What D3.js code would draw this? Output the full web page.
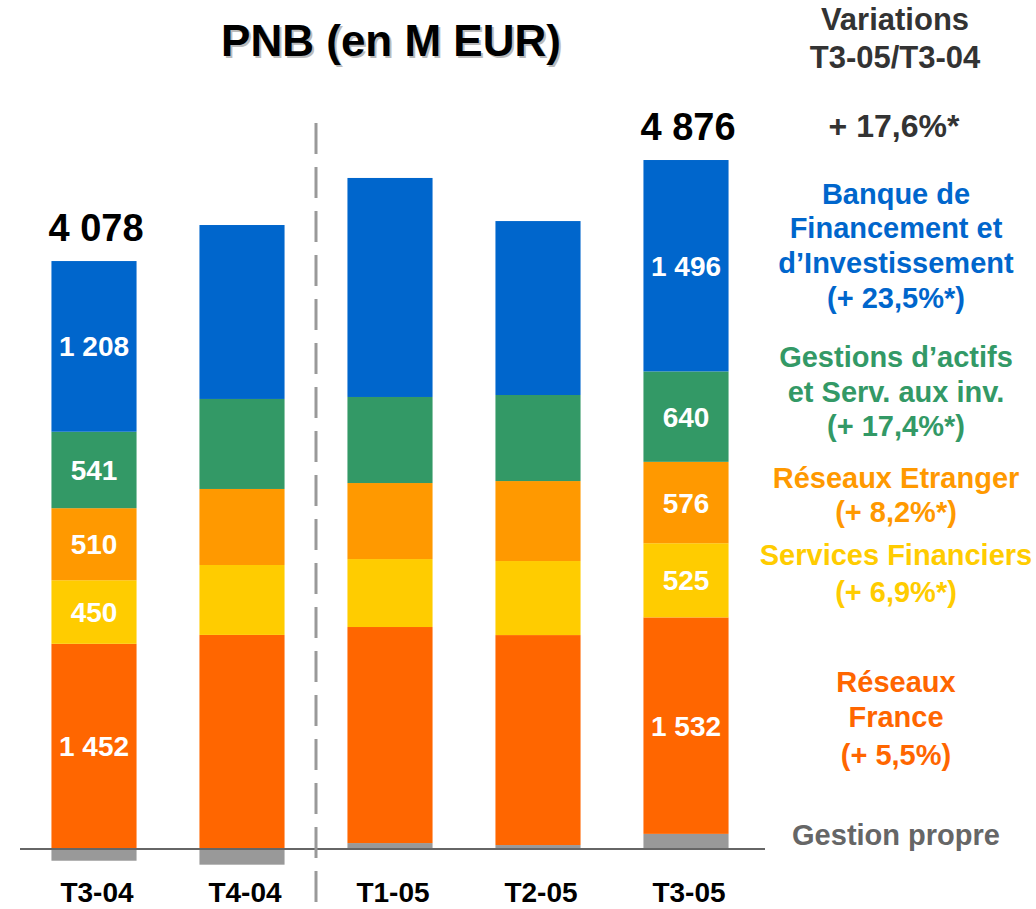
<!DOCTYPE html>
<html>
<head>
<meta charset="utf-8">
<script src="https://cdn.jsdelivr.net/npm/d3@7"></script>
<style>
  body { margin: 0; background: #fff; }
  svg { display: block; font-family: "Liberation Sans", Arial, sans-serif; font-weight: bold; }
</style>
</head>
<body>
<svg id="chart" width="1036" height="909"></svg>
<script>
// quarters
const categories = ["T3-04", "T4-04", "T1-05", "T2-05", "T3-05"];

// PNB per business line, M EUR (bottom to top)
const gestionPropre       = [-83, -111, 42, 28, 107];
const reseauxFrance       = [1452, 1515, 1529, 1486, 1532];
const servicesFinanciers  = [450, 495, 481, 524, 525];
const reseauxEtranger     = [510, 538, 538, 566, 576];
const gestionsActifs      = [541, 637, 609, 609, 640];
const banqueFinancement   = [1208, 1231, 1550, 1231, 1496];

// quarters where the values are printed
const labelled = ["T3-04", "T3-05"];

const keys = ["gp", "rf", "sf", "re", "ga", "bfi"];
const colors = {
  gp: "#999999", rf: "#FF6600", sf: "#FFCC00",
  re: "#FF9900", ga: "#339966", bfi: "#0066CC"
};

// right hand comments
const variationHeader = ["Variations", "T3-05/T3-04"];
const variationTotal = "+ 17,6%*";
const sideNotes = [
  { lines: ["Banque de", "Financement et", "d\u2019Investissement", "(+ 23,5%*)"], color: "#0066CC", y: [204, 238, 273, 308] },
  { lines: ["Gestions d\u2019actifs", "et Serv. aux inv.", "(+ 17,4%*)"], color: "#339966", y: [367, 402, 436] },
  { lines: ["R\u00e9seaux Etranger", "(+ 8,2%*)"], color: "#FF9900", y: [488, 522] },
  { lines: ["Services Financiers", "(+ 6,9%*)"], color: "#FFCC00", y: [565, 602] },
  { lines: ["R\u00e9seaux", "France", "(+ 5,5%)"], color: "#FF6600", y: [692, 727, 765] },
  { lines: ["Gestion propre"], color: "#666666", y: [845] }
];

const rows = categories.map((c, i) => ({
  cat: c,
  gp: gestionPropre[i], rf: reseauxFrance[i], sf: servicesFinanciers[i],
  re: reseauxEtranger[i], ga: gestionsActifs[i], bfi: banqueFinancement[i]
}));

const fr = d3.formatLocale({ decimal: ",", thousands: " ", grouping: [3], currency: ["", ""] });
const fmt = fr.format(",d");

const svg = d3.select("#chart");

const x = d3.scaleBand()
  .domain(categories)
  .range([20, 760])
  .paddingInner(0.425)
  .paddingOuter(0.2125);

const y = d3.scaleLinear()
  .domain([0, 5000])
  .range([849, 142.5]);

const series = d3.stack()
  .keys(keys)
  .offset(d3.stackOffsetDiverging)(rows);

// title with its shadow
const title = "PNB (en M EUR)";
svg.append("text")
  .attr("x", 393).attr("y", 58)
  .attr("text-anchor", "middle")
  .attr("font-size", 44)
  .attr("fill", "#bbbbbb")
  .text(title);
svg.append("text")
  .attr("x", 391).attr("y", 56)
  .attr("text-anchor", "middle")
  .attr("font-size", 44)
  .attr("fill", "#000")
  .text(title);

// bars
svg.append("g")
  .selectAll("g")
  .data(series)
  .join("g")
    .attr("fill", d => colors[d.key])
  .selectAll("rect")
  .data(d => d)
  .join("rect")
    .attr("x", d => x(d.data.cat))
    .attr("width", x.bandwidth())
    .attr("y", d => y(Math.max(d[0], d[1])))
    .attr("height", d => Math.abs(y(d[0]) - y(d[1])));

// values inside the bars
series.filter(s => s.key != "gp").forEach(s => {
  svg.append("g")
    .selectAll("text")
    .data(s.filter(d => labelled.includes(d.data.cat)))
    .join("text")
      .attr("x", d => x(d.data.cat) + x.bandwidth() / 2)
      .attr("y", d => (y(d[0]) + y(d[1])) / 2 + 10)
      .attr("text-anchor", "middle")
      .attr("font-size", 28)
      .attr("fill", "#fff")
      .text(d => fmt(d.data[s.key]));
});

// totals
svg.append("g")
  .selectAll("text")
  .data(rows.filter(r => labelled.includes(r.cat)))
  .join("text")
    .attr("x", d => x(d.cat) + x.bandwidth() / 2 + 2)
    .attr("y", d => y(d3.sum(keys.filter(k => k != "gp"), k => d[k]) + Math.max(0, d.gp)) - 20)
    .attr("text-anchor", "middle")
    .attr("font-size", 38)
    .attr("fill", "#000")
    .text(d => fmt(d3.sum(keys, k => d[k])));

// zero line
svg.append("line")
  .attr("x1", 20).attr("x2", 765)
  .attr("y1", y(0)).attr("y2", y(0))
  .attr("stroke", "#666")
  .attr("stroke-width", 2);

// separation 2004 / 2005
const sepX = (x("T4-04") + x.bandwidth() + x("T1-05")) / 2;
svg.append("line")
  .attr("x1", sepX).attr("x2", sepX)
  .attr("y1", 123).attr("y2", 906)
  .attr("stroke", "#999")
  .attr("stroke-width", 3)
  .attr("stroke-dasharray", "31,13");

// quarter labels
svg.append("g")
  .selectAll("text")
  .data(categories)
  .join("text")
    .attr("x", d => x(d) + x.bandwidth() / 2 + 3)
    .attr("y", 902)
    .attr("text-anchor", "middle")
    .attr("font-size", 28)
    .attr("fill", "#000")
    .text(d => d);

// right hand side
const side = svg.append("g").attr("text-anchor", "middle");
side.selectAll(".hdr")
  .data(variationHeader)
  .join("text")
    .attr("class", "hdr")
    .attr("x", 895)
    .attr("y", (d, i) => 30 + i * 38)
    .attr("font-size", 31)
    .attr("fill", "#333")
    .text(d => d);

side.append("text")
  .attr("x", 894).attr("y", 137)
  .attr("font-size", 32)
  .attr("fill", "#333")
  .text(variationTotal);

sideNotes.forEach(n => {
  side.append("g")
    .selectAll("text")
    .data(n.lines)
    .join("text")
      .attr("x", 896)
      .attr("y", (d, i) => n.y[i])
      .attr("font-size", 29)
      .attr("fill", n.color)
      .text(d => d);
});
</script>
</body>
</html>
